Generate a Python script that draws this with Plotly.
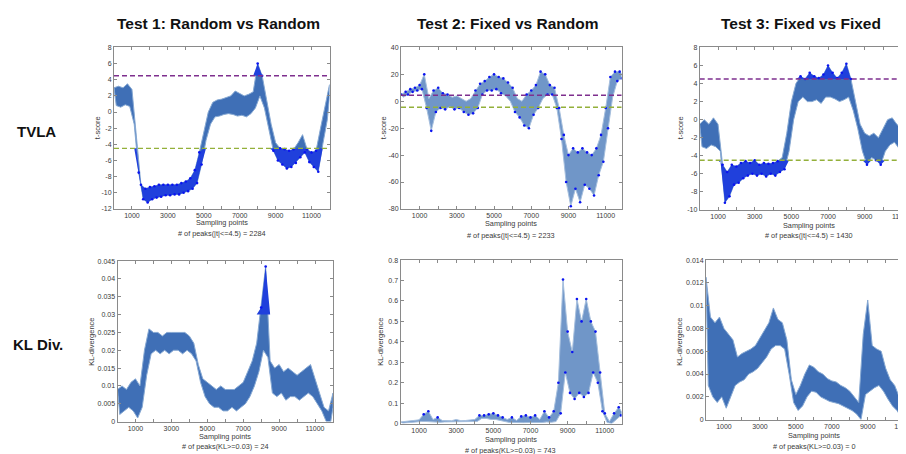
import numpy as np
import plotly.graph_objects as go

# ---------------- data ----------------
STEP = 250  # sample spacing of the envelope readings (hi at k*STEP, lo at k*STEP+STEP/2)

t1_hi = [3.0, 3.2, 3.0, 3.5, 2.8, -3.0, -9.0, -9.5, -9.3, -9.2, -9.0, -9.0, -9.0, -9.0, -9.0, -8.8, -8.6,
         -8.2, -7.2, -5.0, -2.5, 0.0, 1.2, 1.5, 1.6, 1.8, 2.0, 2.6, 2.3, 2.0, 2.2, 2.5, 6.0, 4.5, 1.5,
         -1.5, -3.8, -4.5, -4.6, -4.8, -4.6, -3.8, -2.8, -4.6, -5.0, -4.8, -2.0, 0.5, 3.4]
t1_lo = [0.8, 0.6, 0.9, 0.7, -1.5, -7.5, -10.8, -11.2, -10.8, -10.6, -10.5, -10.3, -10.3, -10.2, -10.2,
         -10.0, -9.8, -9.5, -8.8, -6.5, -3.5, -1.5, -0.6, -0.5, -0.3, -0.2, -0.3, -0.5, -0.4, -0.6, -0.2,
         0.5, 2.0, 0.5, -2.2, -4.8, -6.0, -6.5, -7.0, -6.8, -6.3, -5.6, -5.0, -6.2, -6.8, -7.4, -4.0, -1.0, 1.8]

t2_hi = [5, 7, 9, 10, 12, 20, 2, 8, 10, 6, 5, 3, 4, 2, 0, 2, 8, 13, 15, 18, 20, 18, 17, 14, 10, 2, 0, 5,
         8, 12, 22, 20, 12, 10, -5, -25, -40, -35, -38, -35, -38, -40, -35, -25, -5, 18, 22, 22, 19]
t2_lo = [3, 5, 7, 8, 9, -5, -22, -8, -5, -6, -4, -6, -5, -8, -10, -9, -5, 5, 8, 8, 9, 6, 4, 0, -8, -12,
         -18, -20, -10, -5, 2, 5, 5, -5, -28, -60, -78, -65, -75, -62, -65, -70, -55, -45, -20, 3, 15, 17, 15]

t3_hi = [-0.5, 0.0, -0.5, 0.2, -0.5, -5.0, -5.8, -5.0, -5.2, -4.8, -4.6, -4.8, -4.5, -5.0, -4.8, -4.9,
         -4.8, -4.6, -4.2, -1.5, 2.0, 4.0, 4.8, 4.5, 5.2, 4.8, 4.6, 5.0, 6.0, 5.2, 4.6, 5.2, 6.2, 4.5,
         2.0, -0.5, -1.5, -1.8, -1.5, -2.0, -1.0, 0.0, 0.2, -0.5, -1.0, 0.0, 1.0, 2.0, 2.5]
t3_lo = [-3.0, -3.2, -2.8, -3.0, -3.5, -9.2, -8.5, -7.2, -7.0, -6.5, -6.2, -6.0, -6.2, -6.0, -6.3, -6.0,
         -6.2, -5.8, -5.5, -3.5, 0.0, 2.0, 2.5, 2.0, 2.0, 2.2, 1.8, 2.5, 2.5, 2.3, 2.0, 2.2, 2.5, 1.0,
         -1.0, -3.5, -5.0, -4.2, -4.5, -5.0, -3.5, -2.8, -2.5, -3.2, -3.5, -2.5, -1.0, 0.0, 0.5]

kl1_hi = [0.009, 0.010, 0.009, 0.011, 0.012, 0.010, 0.020, 0.026, 0.025, 0.025, 0.024, 0.025, 0.025,
          0.025, 0.025, 0.025, 0.024, 0.022, 0.016, 0.012, 0.011, 0.010, 0.009, 0.010, 0.009, 0.009,
          0.009, 0.010, 0.011, 0.014, 0.017, 0.022, 0.032, 0.0435, 0.017, 0.015, 0.016, 0.014, 0.015,
          0.014, 0.013, 0.014, 0.015, 0.016, 0.012, 0.008, 0.004, 0.003, 0.008]
kl1_lo = [0.002, 0.003, 0.004, 0.003, 0.001, 0.004, 0.013, 0.019, 0.020, 0.019, 0.020, 0.019, 0.020,
          0.020, 0.019, 0.020, 0.019, 0.017, 0.011, 0.007, 0.005, 0.004, 0.004, 0.003, 0.003, 0.004,
          0.003, 0.004, 0.005, 0.007, 0.010, 0.014, 0.020, 0.018, 0.008, 0.007, 0.008, 0.006, 0.007,
          0.007, 0.006, 0.007, 0.008, 0.007, 0.005, 0.003, 0.000, 0.000, 0.004]

kl2_hi = [0.008, 0.010, 0.012, 0.015, 0.018, 0.045, 0.060, 0.020, 0.030, 0.015, 0.015, 0.014, 0.020,
          0.014, 0.015, 0.016, 0.020, 0.040, 0.040, 0.045, 0.050, 0.040, 0.030, 0.020, 0.030, 0.015,
          0.035, 0.040, 0.030, 0.040, 0.020, 0.060, 0.030, 0.060, 0.200, 0.705, 0.450, 0.350, 0.610,
          0.500, 0.610, 0.500, 0.450, 0.250, 0.050, 0.010, 0.050, 0.080, 0.045]
kl2_lo = [0.002, 0.004, 0.006, 0.008, 0.010, 0.010, 0.008, 0.008, 0.006, 0.008, 0.008, 0.009, 0.010,
          0.009, 0.010, 0.010, 0.010, 0.025, 0.025, 0.020, 0.020, 0.015, 0.010, 0.005, 0.005, 0.003,
          0.004, 0.005, 0.004, 0.006, 0.005, 0.008, 0.006, 0.010, 0.050, 0.250, 0.150, 0.120, 0.150,
          0.130, 0.150, 0.250, 0.200, 0.060, 0.005, 0.000, 0.020, 0.040, 0.030]

kl3_hi = [0.0125, 0.0090, 0.0085, 0.0090, 0.0080, 0.0075, 0.0070, 0.0055, 0.0058, 0.0060, 0.0062,
          0.0065, 0.0072, 0.0078, 0.0085, 0.0098, 0.0088, 0.0085, 0.0070, 0.0035, 0.0022, 0.0030,
          0.0040, 0.0048, 0.0046, 0.0042, 0.0040, 0.0036, 0.0034, 0.0033, 0.0030, 0.0028, 0.0025,
          0.0020, 0.0015, 0.0075, 0.0105, 0.0065, 0.0062, 0.0060, 0.0045, 0.0035, 0.0030, 0.0020,
          0.0018, 0.0020, 0.0018, 0.0016, 0.0015]
kl3_lo = [0.0030, 0.0020, 0.0015, 0.0020, 0.0010, 0.0020, 0.0030, 0.0033, 0.0035, 0.0040, 0.0042,
          0.0045, 0.0050, 0.0055, 0.0062, 0.0065, 0.0065, 0.0062, 0.0040, 0.0015, 0.0008, 0.0012,
          0.0020, 0.0025, 0.0024, 0.0020, 0.0018, 0.0016, 0.0015, 0.0014, 0.0012, 0.0010, 0.0008,
          0.0005, 0.0000, 0.0022, 0.0025, 0.0028, 0.0030, 0.0025, 0.0018, 0.0012, 0.0008, 0.0002,
          0.0001, 0.0002, 0.0001, 0.0000, 0.0002]

col_titles = ["Test 1: Random vs Random", "Test 2: Fixed vs Random", "Test 3: Fixed vs Fixed"]
row_titles = ["TVLA", "KL Div."]
t_peaks = [2284, 2233, 1430]
kl_peaks = [24, 743, 0]
T_THR = 4.5
KL_THR = 0.03

x_tickvals = list(range(0, 12001, 1000))
x_ticktext = [str(v) if (v // 1000) % 2 == 1 else "" for v in x_tickvals]

t_yticks = [list(range(-12, 9, 2)), list(range(-80, 41, 20)), list(range(-10, 9, 2))]
kl_yticks = [[round(0.005 * i, 3) for i in range(10)],
             [round(0.1 * i, 1) for i in range(9)],
             [round(0.002 * i, 3) for i in range(8)]]

# ---------------- layout geometry (pixels) ----------------
W, H = 906, 454
def fx(p): return p / W
def fy(p): return 1 - p / H

panels = [
    dict(hi=t1_hi, lo=t1_lo, xd=(106, 321.5), yd=(36, 200), xr=[0, 12000], yr=[-12, 8], yt=t_yticks[0], kind="t", box=True, spiky=False),
    dict(hi=t2_hi, lo=t2_lo, xd=(393, 613.5), yd=(36, 200), xr=[0, 11850], yr=[-80, 40], yt=t_yticks[1], kind="t", box=True, spiky=True),
    dict(hi=t3_hi, lo=t3_lo, xd=(691.7, 906), yd=(36, 201), xr=[0, 11690], yr=[-10, 8], yt=t_yticks[2], kind="t", box=False, spiky=False),
    dict(hi=kl1_hi, lo=kl1_lo, xd=(109.5, 325), yd=(253, 416), xr=[0, 12000], yr=[0, 0.045], yt=kl_yticks[0], kind="kl", box=True, spiky=False),
    dict(hi=kl2_hi, lo=kl2_lo, xd=(392.5, 613.5), yd=(252, 418), xr=[0, 11900], yr=[0, 0.8], yt=kl_yticks[1], kind="kl", box=True, spiky=True),
    dict(hi=kl3_hi, lo=kl3_lo, xd=(698, 906), yd=(252, 414), xr=[0, 11575], yr=[0, 0.014], yt=kl_yticks[2], kind="kl", box=False, spiky=False),
]

LINE = "#3F6FB6"
EDGE = "#86A8D2"
MID = "#7096C8"
EDGE_LIGHT = "#A6BFDD"
DOT = "#0A14F0"
DOTFILL = "#2040DC"
AX = "#8a8a8a"
TXT = "#3a3a3a"
FONT = "Arial, Liberation Sans, Helvetica, sans-serif"

fig = go.Figure()
layout = {}

def fmt(v):
    s = ("%.3f" % v).rstrip("0").rstrip(".")
    return s if s else "0"

def band(xh, top, xl, bot):
    return list(xh) + list(xl[::-1]) + [xh[0]], list(top) + list(bot[::-1]) + [top[0]]

for i, p in enumerate(panels):
    n = i + 1
    xa = "x" if n == 1 else "x%d" % n
    ya = "y" if n == 1 else "y%d" % n
    hi = np.array(p["hi"], dtype=float)
    lo = np.array(p["lo"], dtype=float)
    k = np.arange(len(hi))
    xh = k * STEP
    xl = np.minimum(k * STEP + STEP / 2, 12000)
    common = dict(xaxis=xa, yaxis=ya, showlegend=False, hoverinfo="skip")

    # main band (envelope of the trace)
    bx, by = band(xh, hi, xl, lo)
    fig.add_trace(go.Scatter(x=bx, y=by, mode="lines", fill="toself",
                             fillcolor=MID if p["spiky"] else LINE,
                             line=dict(color=EDGE_LIGHT if p["spiky"] else EDGE, width=1), **common))

    zx = np.ravel(np.column_stack([xh, xl]))
    zy = np.ravel(np.column_stack([hi, lo]))

    # peaks beyond the threshold
    if p["kind"] == "t":
        flag = np.abs(zy) >= T_THR
        regions = [(np.maximum(hi, T_THR), np.maximum(lo, T_THR)),
                   (np.minimum(hi, -T_THR), np.minimum(lo, -T_THR))]
    else:
        flag = zy >= KL_THR
        regions = [(np.maximum(hi, KL_THR), np.maximum(lo, KL_THR))]
    if not p["spiky"]:
        for top, bot in regions:
            rx, ry = band(xh, top, xl, bot)
            fig.add_trace(go.Scatter(x=rx, y=ry, mode="lines", fill="toself", fillcolor=DOTFILL,
                                     line=dict(width=0, color=DOTFILL), **common))
    fig.add_trace(go.Scatter(x=zx[flag], y=zy[flag], mode="markers",
                             marker=dict(color=DOT, size=2.6), **common))

    if p["kind"] == "t":
        fig.add_trace(go.Scatter(x=[0, 12000], y=[T_THR, T_THR], mode="lines",
                                 line=dict(color="#7E2F8E", width=1.4, dash="5px,3px"), **common))
        fig.add_trace(go.Scatter(x=[0, 12000], y=[-T_THR, -T_THR], mode="lines",
                                 line=dict(color="#93B03A", width=1.4, dash="5px,3px"), **common))

    ax_common = dict(showline=True, linecolor=AX, linewidth=1, ticks="inside", ticklen=3,
                     tickcolor=AX, tickfont=dict(size=7, color=TXT, family=FONT),
                     showgrid=False, zeroline=False, fixedrange=True)
    layout["xaxis" if n == 1 else "xaxis%d" % n] = dict(
        ax_common, domain=[fx(p["xd"][0]), fx(p["xd"][1])], range=p["xr"], anchor=ya,
        tickvals=x_tickvals, ticktext=x_ticktext, mirror="ticks")
    layout["yaxis" if n == 1 else "yaxis%d" % n] = dict(
        ax_common, domain=[fy(p["yd"][1]), fy(p["yd"][0])], range=p["yr"], anchor=xa,
        tickvals=p["yt"], ticktext=[fmt(v) for v in p["yt"]],
        mirror="ticks" if p["box"] else False)

ann = []
def text(x, y, s, size, bold=False, angle=0, color=TXT):
    ann.append(dict(x=fx(x), y=fy(y), xref="paper", yref="paper", text=("<b>%s</b>" % s) if bold else s,
                    showarrow=False, font=dict(size=size, color=color, family=FONT), borderpad=0,
                    xanchor="center", yanchor="middle", textangle=angle))

title_x = [210, 499, 793]
for s, x in zip(col_titles, title_x):
    text(x, 12, s, 15.5, bold=True, color="#111111")
text(29, 121, row_titles[0], 15, bold=True, color="#111111")
text(30, 338, row_titles[1], 15, bold=True, color="#111111")

top_cx = [214, 503, 801]
bot_cx = [217, 503, 806]
top_y = [(214, 225), (215, 226.5), (216.5, 227.5)]
bot_y = [(431, 441.5), (434.5, 445), (430.5, 441.5)]
for j in range(3):
    text(top_cx[j], top_y[j][0], "Sampling points", 7.3)
    text(top_cx[j], top_y[j][1], "# of peaks(|t|<=4.5) = %d" % t_peaks[j], 7.3)
    text(bot_cx[j], bot_y[j][0], "Sampling points", 7.3)
    text(bot_cx[j], bot_y[j][1], "# of peaks(KL>=0.03) = %d" % kl_peaks[j], 7.3)

for x in [89, 375, 672]:
    text(x, 118, "t-score", 7.5, angle=-90)
for x in [84, 373, 672]:
    text(x, 335, "KL-divergence", 7.5, angle=-90)

layout.update(dict(width=W, height=H, margin=dict(l=0, r=0, t=0, b=0), paper_bgcolor="white",
                   plot_bgcolor="white", annotations=ann, showlegend=False))
fig.update_layout(**layout)
fig.write_html("out.html")
